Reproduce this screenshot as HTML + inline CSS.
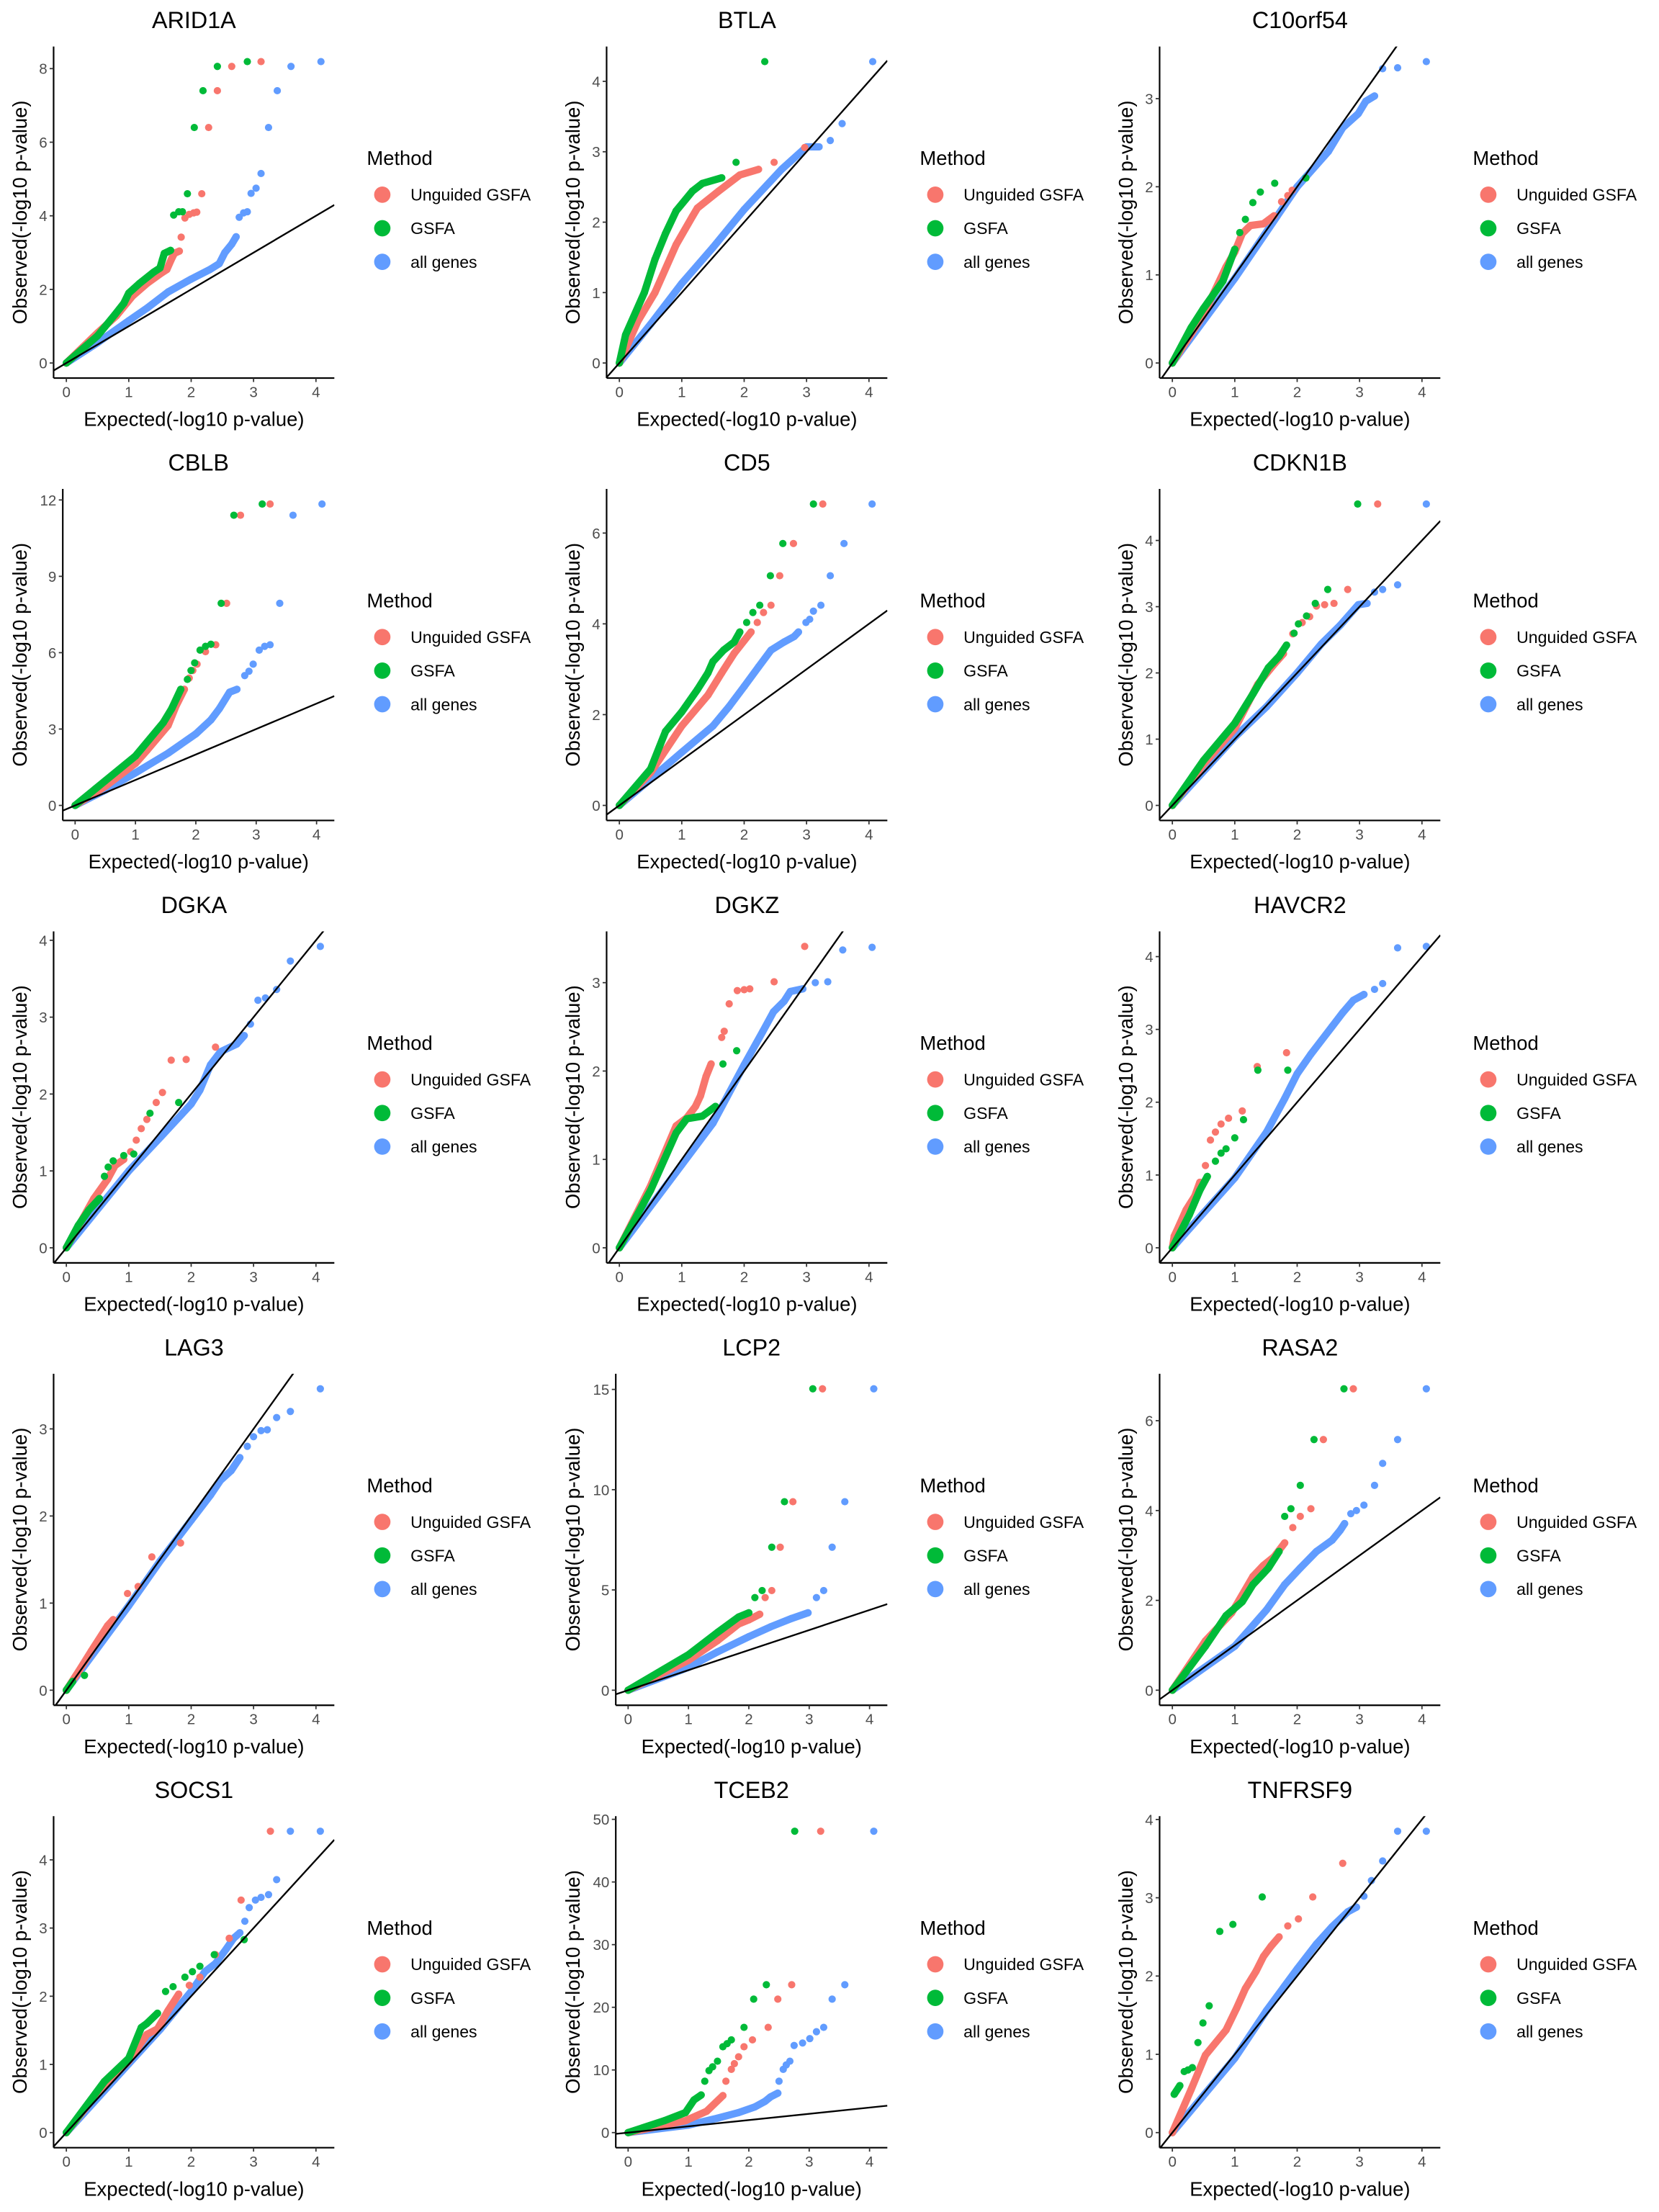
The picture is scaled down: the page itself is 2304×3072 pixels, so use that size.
<!DOCTYPE html>
<html>
<head>
<meta charset="utf-8">
<style>
  html,body{margin:0;padding:0;background:#fff;}
  svg{display:block;}
  text{font-family:"Liberation Sans", Arial, sans-serif;}
</style>
</head>
<body>
<svg id="chart" xmlns="http://www.w3.org/2000/svg" width="2304" height="3072" viewBox="0 0 1176 1568"></svg>
<script>
const genes = ["ARID1A","BTLA","C10orf54","CBLB","CD5","CDKN1B","DGKA","DGKZ","HAVCR2","LAG3","LCP2","RASA2","SOCS1","TCEB2","TNFRSF9"];
const yTickVals = [[0,2,4,6,8],[0,1,2,3,4],[0,1,2,3],[0,3,6,9,12],[0,2,4,6],[0,1,2,3,4],[0,1,2,3,4],[0,1,2,3],[0,1,2,3,4],[0,1,2,3],[0,5,10,15],[0,2,4,6],[0,1,2,3,4],[0,10,20,30,40,50],[0,1,2,3,4]];
const xTickVals = [0,1,2,3,4];
const methods = ["Unguided GSFA","GSFA","all genes"];
const methodColors = ["#F8766D","#00BA38","#619CFF"];

const allGenesCurve = [
 [[0,0],[0.5,0.55],[1,1.15],[1.3,1.5],[1.63,1.93],[2,2.28],[2.3,2.54],[2.45,2.7],[2.54,3.0],[2.65,3.23],[2.72,3.43]],
 [[0,0],[0.5,0.55],[1,1.13],[1.5,1.64],[2,2.18],[2.6,2.75],[3,3.07],[3.2,3.07]],
 [[0,0],[1,0.96],[2,2.0],[2.5,2.4],[2.73,2.67],[2.98,2.83],[3.1,2.97],[3.24,3.03]],
 [[0,0],[0.5,0.6],[1,1.28],[1.54,2.05],[2,2.81],[2.25,3.36],[2.39,3.8],[2.56,4.45],[2.68,4.56]],
 [[0,0],[0.5,0.58],[1,1.17],[1.5,1.75],[1.76,2.18],[2,2.62],[2.23,3.05],[2.43,3.42],[2.64,3.6],[2.8,3.72],[2.87,3.82]],
 [[0,0],[1,1.03],[1.51,1.49],[2,2.0],[2.39,2.44],[2.69,2.72],[2.98,3.03],[3.12,3.05]],
 [[0,0],[1,1.0],[1.51,1.44],[2,1.87],[2.14,2.05],[2.31,2.38],[2.47,2.55],[2.73,2.65],[2.85,2.76]],
 [[0,0],[1,0.94],[1.5,1.41],[2,2.07],[2.3,2.45],[2.47,2.67],[2.64,2.79],[2.74,2.9],[2.94,2.93]],
 [[0,0],[1,0.96],[1.51,1.59],[1.8,2.05],[2,2.39],[2.22,2.66],[2.39,2.85],[2.56,3.04],[2.73,3.23],[2.9,3.4],[3.07,3.48]],
 [[0,0],[1,0.97],[1.5,1.48],[2,1.95],[2.31,2.24],[2.47,2.41],[2.64,2.52],[2.78,2.67]],
 [[0,0],[1,1.14],[1.48,1.91],[2,2.67],[2.36,3.16],[2.71,3.58],[2.98,3.86]],
 [[0,0],[1,0.98],[1.51,1.79],[1.8,2.35],[2.05,2.72],[2.31,3.09],[2.56,3.34],[2.69,3.56],[2.76,3.71]],
 [[0,0],[1,1.01],[1.51,1.52],[2,2.07],[2.22,2.36],[2.39,2.48],[2.56,2.69],[2.68,2.85],[2.78,2.93]],
 [[0,0],[1,1.2],[1.48,2.3],[1.83,3.2],[2.1,4.1],[2.27,5.0],[2.36,5.7],[2.48,6.3]],
 [[0,0],[1,0.95],[1.51,1.56],[2,2.09],[2.31,2.41],[2.56,2.63],[2.81,2.82],[2.95,2.88]]
];
const allGenesTail = [
 [[2.77,3.96],[2.84,4.08],[2.9,4.11],[2.96,4.61],[3.04,4.75],[3.12,5.15],[3.24,6.4],[3.38,7.4],[3.6,8.06],[4.08,8.19]],
 [[3.38,3.16],[3.57,3.4],[4.06,4.28]],
 [[3.37,3.34],[3.61,3.35],[4.07,3.42]],
 [[2.81,5.1],[2.88,5.27],[2.95,5.55],[3.05,6.1],[3.14,6.25],[3.23,6.31],[3.39,7.94],[3.61,11.4],[4.09,11.84]],
 [[2.99,4.03],[3.05,4.1],[3.11,4.28],[3.23,4.41],[3.38,5.06],[3.6,5.77],[4.05,6.64]],
 [[3.24,3.22],[3.37,3.26],[3.61,3.33],[4.07,4.55]],
 [[2.95,2.91],[3.07,3.22],[3.19,3.25],[3.37,3.36],[3.59,3.73],[4.07,3.92]],
 [[3.14,3.0],[3.34,3.01],[3.58,3.37],[4.05,3.4]],
 [[3.24,3.55],[3.37,3.63],[3.61,4.12],[4.07,4.14]],
 [[2.9,2.8],[3.0,2.91],[3.12,2.98],[3.22,2.99],[3.37,3.13],[3.59,3.2],[4.07,3.46]],
 [[3.12,4.62],[3.24,4.97],[3.38,7.13],[3.59,9.4],[4.07,15.03]],
 [[2.86,3.93],[2.95,4.0],[3.07,4.12],[3.24,4.56],[3.37,5.05],[3.61,5.58],[4.07,6.71]],
 [[2.86,3.1],[2.93,3.3],[3.03,3.41],[3.12,3.45],[3.24,3.49],[3.37,3.71],[3.59,4.42],[4.07,4.42]],
 [[2.5,8.2],[2.57,10.1],[2.62,10.8],[2.68,11.4],[2.75,13.9],[2.89,14.3],[3.01,15.0],[3.12,16.1],[3.24,16.8],[3.38,21.3],[3.59,23.6],[4.07,48.1]],
 [[3.07,3.02],[3.19,3.22],[3.37,3.47],[3.61,3.85],[4.07,3.85]]
];
const unguidedCurve = [
 [[0,0],[0.5,0.82],[0.8,1.28],[1.06,1.82],[1.29,2.16],[1.51,2.43],[1.61,2.54],[1.68,2.81],[1.73,2.98],[1.81,3.04]],
 [[0,0],[0.3,0.6],[0.57,1.0],[0.91,1.68],[1.17,2.08],[1.25,2.2],[1.59,2.44],[1.93,2.67],[2.23,2.75]],
 [[0,0],[0.5,0.55],[0.86,1.09],[1.0,1.26],[1.12,1.47],[1.25,1.56],[1.46,1.58],[1.63,1.67]],
 [[0,0],[0.5,0.75],[1,1.65],[1.19,2.16],[1.54,3.14],[1.67,3.9],[1.81,4.56]],
 [[0,0],[0.5,0.72],[1,1.75],[1.42,2.43],[1.64,2.92],[1.84,3.35],[2.0,3.63],[2.11,3.82]],
 [[0,0],[0.5,0.62],[1,1.16],[1.37,1.83],[1.63,2.13],[1.78,2.29]],
 [[0,0],[0.44,0.64],[0.66,0.89],[0.78,1.07],[0.92,1.15]],
 [[0,0],[0.5,0.7],[0.91,1.38],[1.08,1.47],[1.22,1.6],[1.3,1.72],[1.39,1.94],[1.47,2.08]],
 [[0,0],[0.03,0.16],[0.1,0.29],[0.22,0.52],[0.36,0.71],[0.44,0.9]],
 [[0,0],[0.2,0.22],[0.4,0.45],[0.66,0.74],[0.75,0.81]],
 [[0,0],[1,1.49],[1.48,2.47],[1.83,3.3],[2.0,3.51],[2.18,3.79]],
 [[0,0],[0.53,1.1],[0.95,1.72],[1.29,2.53],[1.46,2.78],[1.63,2.97],[1.8,3.28]],
 [[0,0],[0.6,0.7],[1,1.05],[1.29,1.44],[1.46,1.52],[1.63,1.79],[1.8,2.03]],
 [[0,0],[0.95,1.9],[1.3,3.4],[1.57,5.9]],
 [[0,0],[0.3,0.55],[0.53,0.99],[0.86,1.31],[1.03,1.59],[1.17,1.84],[1.34,2.06],[1.46,2.25],[1.58,2.38],[1.71,2.5]]
];
const unguidedTail = [
 [[1.84,3.42],[1.9,3.94],[1.97,4.04],[2.04,4.08],[2.09,4.1],[2.17,4.6],[2.28,6.4],[2.42,7.4],[2.65,8.06],[3.12,8.19]],
 [[2.48,2.85],[2.97,3.06]],
 [[1.75,1.83],[1.85,1.9],[1.92,1.96]],
 [[1.89,5.0],[1.95,5.3],[2.02,5.55],[2.16,6.04],[2.33,6.31],[2.51,7.94],[2.74,11.4],[3.23,11.84]],
 [[2.21,4.03],[2.31,4.25],[2.43,4.41],[2.57,5.06],[2.79,5.77],[3.26,6.64]],
 [[1.93,2.59],[2.08,2.76],[2.2,2.85],[2.31,3.01],[2.44,3.03],[2.59,3.05],[2.81,3.26],[3.29,4.55]],
 [[1.03,1.25],[1.12,1.4],[1.2,1.55],[1.29,1.67],[1.44,1.89],[1.54,2.02],[1.68,2.44],[1.92,2.45],[2.39,2.61]],
 [[1.64,2.38],[1.68,2.45],[1.76,2.76],[1.89,2.91],[2.0,2.92],[2.09,2.93],[2.48,3.01],[2.97,3.41]],
 [[0.53,1.13],[0.61,1.48],[0.69,1.59],[0.78,1.7],[0.9,1.78],[1.12,1.88],[1.36,2.49],[1.83,2.68]],
 [[0.98,1.11],[1.15,1.19],[1.37,1.53],[1.83,1.69]],
 [[2.27,4.62],[2.38,4.97],[2.52,7.13],[2.73,9.4],[3.22,15.03]],
 [[1.93,3.62],[2.05,3.87],[2.22,4.04],[2.42,5.58],[2.9,6.71]],
 [[1.97,2.16],[2.14,2.28],[2.39,2.61],[2.61,2.85],[2.8,3.41],[3.27,4.42]],
 [[1.62,8.2],[1.71,10.1],[1.76,11.0],[1.83,12.1],[1.92,13.7],[2.06,14.8],[2.32,16.8],[2.48,21.3],[2.71,23.6],[3.19,48.1]],
 [[1.85,2.64],[2.02,2.73],[2.25,3.01],[2.73,3.44]]
];
const gsfaCurve = [
 [[0,0],[0.5,0.74],[0.78,1.32],[0.92,1.62],[1,1.9],[1.17,2.16],[1.4,2.47],[1.5,2.58],[1.54,2.81],[1.57,2.98],[1.67,3.06]],
 [[0,0],[0.1,0.4],[0.4,1.0],[0.57,1.47],[0.74,1.84],[0.91,2.16],[1.17,2.44],[1.33,2.55],[1.64,2.63]],
 [[0,0],[0.3,0.4],[0.5,0.62],[0.81,0.93],[1.0,1.29]],
 [[0,0],[0.49,0.95],[1,1.94],[1.46,3.25],[1.6,3.8],[1.75,4.56]],
 [[0,0],[0.5,0.8],[0.74,1.63],[1,2.06],[1.25,2.55],[1.42,2.92],[1.5,3.17],[1.67,3.42],[1.84,3.6],[1.93,3.82]],
 [[0,0],[0.5,0.68],[1,1.24],[1.29,1.68],[1.54,2.08],[1.71,2.25],[1.83,2.42]],
 [[0,0],[0.19,0.29],[0.36,0.49],[0.53,0.64]],
 [[0,0],[0.5,0.65],[0.91,1.3],[1.08,1.46],[1.33,1.49],[1.54,1.6]],
 [[0,0],[0.27,0.45],[0.44,0.79],[0.56,0.98]],
 [[0,0],[0.1,0.1]],
 [[0,0],[1,1.77],[1.48,2.88],[1.83,3.65],[2.0,3.86]],
 [[0,0],[0.53,0.98],[0.86,1.66],[1.12,1.97],[1.29,2.35],[1.46,2.6],[1.54,2.72],[1.71,3.09]],
 [[0,0],[0.61,0.75],[1,1.09],[1.2,1.54],[1.29,1.6],[1.46,1.75]],
 [[0,0],[0.6,1.9],[0.95,3.2],[1.09,5.2],[1.21,6.0]],
 [[0.03,0.49],[0.12,0.6]]
];
const gsfaTail = [
 [[1.72,4.02],[1.8,4.11],[1.86,4.11],[1.94,4.6],[2.05,6.4],[2.19,7.4],[2.42,8.06],[2.9,8.19]],
 [[1.87,2.85],[2.33,4.28]],
 [[1.08,1.48],[1.17,1.63],[1.29,1.82],[1.41,1.94],[1.64,2.04],[2.14,2.1]],
 [[1.86,4.95],[1.92,5.3],[1.98,5.6],[2.07,6.1],[2.16,6.25],[2.25,6.33],[2.42,7.94],[2.63,11.4],[3.1,11.84]],
 [[2.04,4.03],[2.14,4.25],[2.25,4.41],[2.42,5.06],[2.62,5.77],[3.11,6.64]],
 [[1.95,2.6],[2.02,2.74],[2.15,2.86],[2.29,3.05],[2.49,3.26],[2.97,4.55]],
 [[0.61,0.93],[0.67,1.05],[0.75,1.13],[0.92,1.2],[1.08,1.22],[1.34,1.75],[1.8,1.89]],
 [[1.66,2.08],[1.88,2.23]],
 [[0.69,1.19],[0.78,1.3],[0.86,1.36],[1,1.51],[1.14,1.76],[1.37,2.44],[1.85,2.44]],
 [[0.29,0.17]],
 [[2.1,4.62],[2.22,4.97],[2.38,7.13],[2.59,9.4],[3.06,15.03]],
 [[1.8,3.87],[1.9,4.04],[2.05,4.56],[2.27,5.58],[2.75,6.71]],
 [[1.59,2.07],[1.71,2.14],[1.9,2.28],[2.02,2.36],[2.14,2.44],[2.37,2.61],[2.85,2.83]],
 [[1.27,8.2],[1.34,9.9],[1.4,10.5],[1.48,11.4],[1.57,13.7],[1.64,14.2],[1.71,14.8],[1.92,16.8],[2.08,21.3],[2.29,23.6],[2.76,48.1]],
 [[0.19,0.78],[0.25,0.8],[0.32,0.83],[0.41,1.15],[0.49,1.4],[0.59,1.62],[0.76,2.57],[0.97,2.66],[1.44,3.01]]
];

const NS = "http://www.w3.org/2000/svg";
const svg = document.getElementById("chart");
function mk(tag, attrs, parent) {
  const el = document.createElementNS(NS, tag);
  for (const k in attrs) el.setAttribute(k, attrs[k]);
  (parent || svg).appendChild(el);
  return el;
}
function txt(content, attrs, parent) {
  const el = mk("text", attrs, parent);
  el.textContent = content;
  return el;
}

const X_MIN = -0.2045, X_MAX = 4.2945;
const R = 2.6;

genes.forEach((gene, gi) => {
  const col = gi % 3, row = Math.floor(gi / 3);
  const ox = col * 392, oy = row * 313.6;
  const ticks = yTickVals[gi];
  const wide = ticks.some(t => String(t).length > 1);
  const left = ox + 38 + (wide ? 6.5 : 0);
  const right = ox + 237;
  const top = oy + 33, bottom = oy + 268;

  const seriesCurve = [unguidedCurve[gi], gsfaCurve[gi], allGenesCurve[gi]];
  const seriesTail = [unguidedTail[gi], gsfaTail[gi], allGenesTail[gi]];
  let ymax = 0;
  seriesCurve.concat(seriesTail).forEach(s => s.forEach(p => { if (p[1] > ymax) ymax = p[1]; }));
  const yMin = -0.05 * ymax, yMaxD = 1.05 * ymax;
  const xs = v => left + (v - X_MIN) / (X_MAX - X_MIN) * (right - left);
  const ys = v => bottom - (v - yMin) / (yMaxD - yMin) * (bottom - top);

  const g = mk("g", {});
  
  

  const clipId = "clip" + gi;
  const cp = mk("clipPath", {id: clipId}, g);
  mk("rect", {x: left, y: top, width: right - left, height: bottom - top}, cp);

  const title = txt(gene, {x: (left + right) / 2, y: oy + 20, "text-anchor": "middle", "font-size": 16.5, fill: "#000"}, g);
  
  

  const plotG = mk("g", {"clip-path": "url(#" + clipId + ")"}, g);
  [2, 0, 1].forEach(si => {
    const color = methodColors[si];
    const sg = mk("g", {}, plotG);
    
    
    const curve = seriesCurve[si];
    if (curve.length > 1) {
      const d = curve.map((p, i) => (i ? "L" : "M") + xs(p[0]).toFixed(2) + " " + ys(p[1]).toFixed(2)).join(" ");
      const path = mk("path", {d: d, fill: "none", stroke: color, "stroke-width": 2 * R, "stroke-linecap": "round", "stroke-linejoin": "round"}, sg);
      
      
    }
    curve.concat(seriesTail[si]).forEach(p => {
      const c = mk("circle", {cx: xs(p[0]).toFixed(2), cy: ys(p[1]).toFixed(2), r: R, fill: color}, sg);
      
      
    });
  });

  const diag = mk("line", {x1: xs(X_MIN), y1: ys(X_MIN), x2: xs(X_MAX), y2: ys(X_MAX), stroke: "#000", "stroke-width": 1.2}, plotG);
  
  

  const yAxis = mk("line", {x1: left, y1: top, x2: left, y2: bottom, stroke: "#000", "stroke-width": 1.1}, g);
  
  
  const xAxis = mk("line", {x1: left, y1: bottom, x2: right, y2: bottom, stroke: "#000", "stroke-width": 1.1}, g);
  
  

  ticks.forEach(t => {
    const y = ys(t);
    mk("line", {x1: left - 2.8, y1: y, x2: left, y2: y, stroke: "#333", "stroke-width": 0.9}, g);
    const lab = txt(String(t), {x: left - 4.5, y: y + 3.8, "text-anchor": "end", "font-size": 10.5, fill: "#4d4d4d"}, g);
    
    
  });
  xTickVals.forEach(t => {
    const x = xs(t);
    mk("line", {x1: x, y1: bottom, x2: x, y2: bottom + 2.8, stroke: "#333", "stroke-width": 0.9}, g);
    const lab = txt(String(t), {x: x, y: bottom + 13.5, "text-anchor": "middle", "font-size": 10.5, fill: "#4d4d4d"}, g);
    
    
  });

  const xt = txt("Expected(-log10 p-value)", {x: (left + right) / 2, y: oy + 302, "text-anchor": "middle", "font-size": 14, fill: "#000"}, g);
  
  
  const yc = (top + bottom) / 2;
  const yt = txt("Observed(-log10 p-value)", {x: 0, y: 0, "text-anchor": "middle", "font-size": 14, fill: "#000", transform: "translate(" + (ox + 19) + "," + yc + ") rotate(-90)"}, g);
  
  

  const lg = mk("g", {}, g);
  
  
  const lt = txt("Method", {x: ox + 260, y: oy + 117, "font-size": 14, fill: "#000"}, lg);
  
  
  methods.forEach((m, mi) => {
    const cy = oy + 138 + mi * 23.8;
    const e = mk("g", {}, lg);
    
    
    mk("circle", {cx: ox + 271, cy: cy, r: 5.8, fill: methodColors[mi]}, e);
    txt(m, {x: ox + 291, y: cy + 4.2, "font-size": 11.8, fill: "#000"}, e);
  });
});
</script>
</body>
</html>
